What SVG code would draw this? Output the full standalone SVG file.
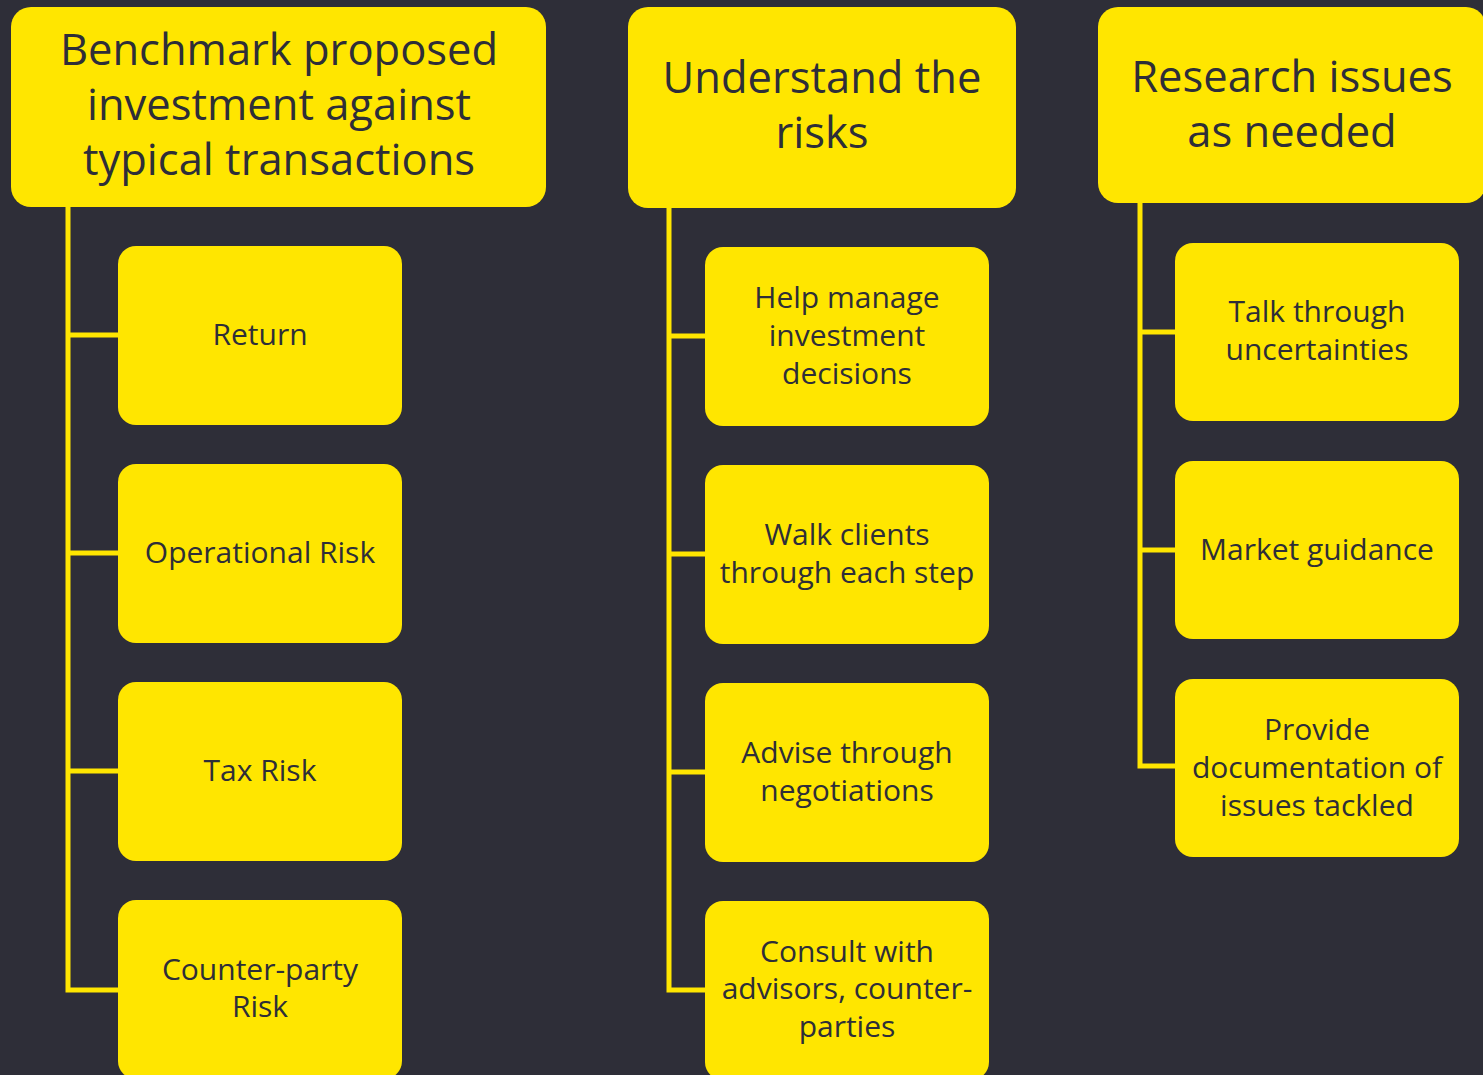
<svg xmlns="http://www.w3.org/2000/svg" width="1483" height="1075" viewBox="0 0 1483 1075">
  <style>
    .box { fill: #FFE600; }
    .head { font-family: "Open Sans", "Liberation Sans", sans-serif; font-size: 43.5px; fill: #2E2E38; text-anchor: middle; }
    .item { font-family: "Open Sans", "Liberation Sans", sans-serif; font-size: 30px; fill: #2E2E38; text-anchor: middle; }
    .link { fill: none; stroke: #FFE600; stroke-width: 5; stroke-linejoin: miter; }
  </style>
  <rect width="1483" height="1075" fill="#2E2E38"/>

  <!-- tree connectors -->
  <g id="connectors">
    <path class="link" d="M68,207 V990 H118 M68,335 H118 M68,553 H118 M68,771 H118"/>
    <path class="link" d="M669,208 V990 H705 M669,336 H705 M669,554 H705 M669,772 H705"/>
    <path class="link" d="M1140,203 V766 H1175 M1140,332 H1175 M1140,550 H1175"/>
  </g>

  <!-- column 1 -->
  <g id="head-benchmark">
    <rect class="box" x="11" y="7" width="535" height="200" rx="20"/>
    <text class="head" x="279" y="65">Benchmark proposed</text>
    <text class="head" x="279" y="120">investment against</text>
    <text class="head" x="279" y="175">typical transactions</text>
  </g>
  <g id="return">
    <rect class="box" x="118" y="246" width="284" height="179" rx="18"/>
    <text class="item" x="260" y="345">Return</text>
  </g>
  <g id="operational-risk">
    <rect class="box" x="118" y="464" width="284" height="179" rx="18"/>
    <text class="item" x="260" y="563">Operational Risk</text>
  </g>
  <g id="tax-risk">
    <rect class="box" x="118" y="682" width="284" height="179" rx="18"/>
    <text class="item" x="260" y="781">Tax Risk</text>
  </g>
  <g id="counterparty-risk">
    <rect class="box" x="118" y="900" width="284" height="179" rx="18"/>
    <text class="item" x="260" y="980">Counter-party</text>
    <text class="item" x="260" y="1017">Risk</text>
  </g>

  <!-- column 2 -->
  <g id="head-risks">
    <rect class="box" x="628" y="7" width="388" height="201" rx="20"/>
    <text class="head" x="822" y="93">Understand the</text>
    <text class="head" x="822" y="148">risks</text>
  </g>
  <g id="help-manage">
    <rect class="box" x="705" y="247" width="284" height="179" rx="18"/>
    <text class="item" x="847" y="308">Help manage</text>
    <text class="item" x="847" y="346">investment</text>
    <text class="item" x="847" y="384">decisions</text>
  </g>
  <g id="walk-clients">
    <rect class="box" x="705" y="465" width="284" height="179" rx="18"/>
    <text class="item" x="847" y="545">Walk clients</text>
    <text class="item" x="847" y="583">through each step</text>
  </g>
  <g id="advise">
    <rect class="box" x="705" y="683" width="284" height="179" rx="18"/>
    <text class="item" x="847" y="763">Advise through</text>
    <text class="item" x="847" y="801">negotiations</text>
  </g>
  <g id="consult">
    <rect class="box" x="705" y="901" width="284" height="179" rx="18"/>
    <text class="item" x="847" y="962">Consult with</text>
    <text class="item" x="847" y="999">advisors, counter-</text>
    <text class="item" x="847" y="1037">parties</text>
  </g>

  <!-- column 3 -->
  <g id="head-research">
    <rect class="box" x="1098" y="7" width="388" height="196" rx="20"/>
    <text class="head" x="1292" y="92">Research issues</text>
    <text class="head" x="1292" y="147">as needed</text>
  </g>
  <g id="talk-through">
    <rect class="box" x="1175" y="243" width="284" height="178" rx="18"/>
    <text class="item" x="1317" y="322">Talk through</text>
    <text class="item" x="1317" y="360">uncertainties</text>
  </g>
  <g id="market-guidance">
    <rect class="box" x="1175" y="461" width="284" height="178" rx="18"/>
    <text class="item" x="1317" y="560">Market guidance</text>
  </g>
  <g id="documentation">
    <rect class="box" x="1175" y="679" width="284" height="178" rx="18"/>
    <text class="item" x="1317" y="740">Provide</text>
    <text class="item" x="1317" y="778">documentation of</text>
    <text class="item" x="1317" y="816">issues tackled</text>
  </g>
</svg>
